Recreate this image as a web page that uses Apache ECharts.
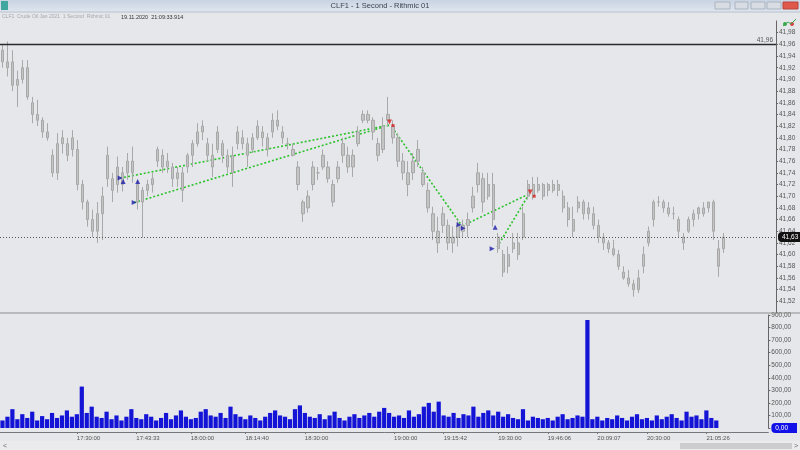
<!DOCTYPE html>
<html><head><meta charset="utf-8">
<script src="https://cdn.jsdelivr.net/npm/echarts@6/dist/echarts.min.js"></script>
<style>html,body{margin:0;padding:0;background:#e6e7eb}#c{width:800px;height:450px}</style>
</head><body><div id="c"></div>
<script>
// ---- data ----
const CAT_COUNT = 155;
const lows = [41.92,41.905,41.88,41.853,41.893,41.865,41.825,41.82,41.80,41.795,
41.733,41.728,41.773,41.76,41.768,41.71,41.677,41.648,41.63,41.62,
41.625,41.716,41.69,41.706,41.708,41.728,41.723,41.677,41.629,41.70,
41.706,41.75,41.74,41.74,41.716,41.716,41.69,41.74,41.75,41.785,
41.796,41.76,41.733,41.774,41.757,41.74,41.716,41.78,41.78,41.75,
41.774,41.796,41.785,41.768,41.80,41.813,41.79,41.78,41.768,41.71,
41.656,41.672,41.71,41.728,41.745,41.723,41.682,41.723,41.757,41.74,
41.733,41.785,41.825,41.825,41.796,41.76,41.774,41.82,41.79,41.75,
41.728,41.70,41.728,41.75,41.716,41.672,41.625,41.603,41.637,41.608,
41.603,41.614,41.63,41.63,41.672,41.706,41.672,41.694,41.648,41.603,
41.562,41.568,41.603,41.591,41.625,41.694,41.694,41.706,41.694,41.70,
41.706,41.70,41.672,41.648,41.63,41.672,41.66,41.66,41.643,41.62,
41.608,41.603,41.597,41.574,41.557,41.545,41.528,41.534,41.568,41.614,
41.648,41.682,41.672,41.665,41.66,41.63,41.608,41.637,41.648,41.66,
41.665,41.672,41.625,41.562,41.603];
const highs = [41.96,41.965,41.95,41.915,41.933,41.933,41.87,41.865,41.835,41.825,
41.78,41.808,41.813,41.80,41.813,41.796,41.728,41.694,41.677,41.69,
41.716,41.785,41.74,41.768,41.75,41.774,41.785,41.728,41.716,41.728,
41.74,41.785,41.78,41.774,41.757,41.75,41.75,41.774,41.796,41.825,
41.83,41.80,41.79,41.82,41.796,41.78,41.785,41.82,41.813,41.80,
41.808,41.83,41.82,41.808,41.842,41.847,41.82,41.80,41.79,41.76,
41.694,41.71,41.76,41.75,41.78,41.76,41.728,41.76,41.80,41.785,
41.78,41.82,41.847,41.847,41.835,41.80,41.835,41.87,41.83,41.808,
41.774,41.76,41.774,41.796,41.75,41.723,41.682,41.665,41.682,41.66,
41.648,41.66,41.66,41.672,41.716,41.757,41.74,41.74,41.74,41.637,
41.608,41.614,41.637,41.637,41.682,41.728,41.733,41.733,41.723,41.723,
41.728,41.728,41.71,41.69,41.682,41.70,41.694,41.69,41.682,41.66,
41.637,41.625,41.625,41.608,41.58,41.574,41.557,41.574,41.614,41.648,
41.694,41.70,41.694,41.69,41.682,41.665,41.637,41.665,41.677,41.682,
41.69,41.69,41.694,41.625,41.637];
const opens = [41.95,41.93,41.93,41.89,41.90,41.92,41.86,41.84,41.83,41.81,
41.77,41.74,41.79,41.79,41.78,41.78,41.72,41.69,41.66,41.64,
41.67,41.73,41.73,41.72,41.74,41.74,41.76,41.72,41.69,41.71,
41.72,41.76,41.77,41.75,41.75,41.73,41.74,41.75,41.77,41.79,
41.81,41.79,41.77,41.78,41.79,41.77,41.74,41.79,41.80,41.79,
41.78,41.80,41.81,41.80,41.81,41.83,41.81,41.79,41.78,41.75,
41.69,41.68,41.72,41.74,41.75,41.75,41.72,41.73,41.77,41.77,
41.75,41.79,41.83,41.84,41.83,41.79,41.78,41.83,41.82,41.80,
41.76,41.74,41.74,41.76,41.74,41.71,41.67,41.64,41.65,41.65,
41.62,41.63,41.64,41.65,41.68,41.72,41.73,41.70,41.72,41.63,
41.60,41.58,41.61,41.62,41.63,41.70,41.72,41.71,41.72,41.71,
41.72,41.71,41.70,41.68,41.66,41.68,41.69,41.67,41.67,41.65,
41.63,41.62,41.61,41.60,41.57,41.56,41.55,41.54,41.58,41.62,
41.66,41.69,41.69,41.68,41.67,41.66,41.63,41.64,41.66,41.67,
41.67,41.68,41.69,41.61,41.61];
const closes = [41.93,41.92,41.89,41.90,41.92,41.87,41.84,41.83,41.81,41.80,
41.74,41.79,41.80,41.77,41.80,41.72,41.69,41.66,41.64,41.67,
41.70,41.77,41.71,41.75,41.72,41.76,41.74,41.69,41.71,41.72,
41.73,41.78,41.75,41.76,41.73,41.74,41.71,41.77,41.79,41.81,
41.82,41.77,41.75,41.81,41.77,41.75,41.77,41.81,41.79,41.77,
41.80,41.82,41.80,41.78,41.83,41.82,41.80,41.79,41.77,41.72,
41.67,41.70,41.75,41.74,41.77,41.73,41.69,41.75,41.79,41.75,
41.77,41.81,41.84,41.83,41.81,41.77,41.82,41.84,41.80,41.76,
41.74,41.72,41.76,41.78,41.72,41.68,41.64,41.62,41.67,41.62,
41.63,41.65,41.65,41.66,41.70,41.74,41.69,41.72,41.66,41.61,
41.57,41.60,41.62,41.60,41.67,41.72,41.70,41.72,41.70,41.72,
41.71,41.72,41.68,41.66,41.64,41.69,41.67,41.68,41.65,41.63,
41.62,41.61,41.60,41.58,41.56,41.55,41.54,41.56,41.60,41.64,
41.69,41.69,41.68,41.67,41.67,41.64,41.62,41.66,41.67,41.68,
41.68,41.69,41.64,41.58,41.63];
const volumes = [60,90,150,70,110,80,130,60,95,70,
120,80,100,140,90,110,330,120,170,90,
80,130,70,100,60,90,150,80,70,110,
90,60,80,120,70,100,140,90,70,80,
130,150,100,90,120,80,170,110,90,70,
100,80,60,90,120,140,100,90,70,150,
180,120,90,80,110,70,100,130,80,60,
90,110,80,100,120,90,130,160,120,90,
100,80,140,90,110,170,200,130,210,100,
90,120,80,110,100,170,90,120,140,100,
130,90,110,80,70,150,60,90,80,70,
80,60,90,110,70,80,100,90,860,70,
90,60,80,70,100,80,60,90,110,70,
80,60,100,70,90,110,80,60,130,90,
100,70,140,80,60];
const timeLabels = ['17:30:00','17:43:33','18:00:00','18:14:40','18:30:00','19:00:00','19:15:42','19:30:00','19:46:06','20:09:07','20:30:00','21:05:26'];
const timeLabelIdx = [15,27,38,49,61,79,89,100,110,120,130,142];
const refHigh = 41.96;
const lastPrice = 41.63;
// trade annotation coordinates: [candle index, price]
const tradeLines = [
  [[23.5,41.731],[77.4,41.822]],
  [[26.3,41.689],[77.4,41.822]],
  [[77.8,41.818],[91.8,41.649]],
  [[91.8,41.649],[105.2,41.704]],
  [[98.8,41.613],[105.2,41.704]]
];
const entryMarks = [[23.5,41.731],[26.3,41.689],[91.2,41.651],[92.0,41.645],[97.8,41.610]];
const entryUpMarks = [[24.1,41.725],[27.0,41.725],[98.4,41.647]];
const exitMarks = [[77.3,41.827],[105.4,41.707]];
const exitDots = [[78.0,41.821],[106.2,41.700]];
const tradeLabelPts = [[78.6,41.831],[92.4,41.636],[102.4,41.742]];
const tradeLabels = ['+220 $','+170 $','+140 $'];

// ---- build ----
const cats = [];
for (let i = 0; i < CAT_COUNT; i++) cats.push(String(i));
const ohlc = opens.map((o, i) => [o, closes[i], lows[i], highs[i]]);
const comma = v => v.toFixed(2).replace('.', ',');
const FONT = 'Liberation Sans';

const chart = echarts.init(document.getElementById('c'), null, {renderer: 'canvas'});
const option = {
  backgroundColor: '#e6e7eb',
  animation: false,
  textStyle: {fontFamily: FONT},
  grid: [
    {left: 0, right: 24, top: 21, height: 292},
    {left: 0, right: 24, top: 315, height: 113}
  ],
  xAxis: [
    {type: 'category', gridIndex: 0, data: cats, show: false},
    {type: 'category', gridIndex: 1, data: cats, offset: 4,
      axisLine: {show: true, onZero: false, lineStyle: {color: '#777', width: 1}},
      axisTick: {show: true, alignWithLabel: true, length: 2, interval: i => timeLabelIdx.includes(i), lineStyle: {color: '#777'}},
      axisLabel: {show: true, interval: i => timeLabelIdx.includes(i), align: 'left', margin: 3, fontSize: 6, color: '#555',
        formatter: (v, i) => { const k = timeLabelIdx.indexOf(i); return k >= 0 ? timeLabels[k] : ''; }},
      splitLine: {show: false}},
    {type: 'value', gridIndex: 0, min: -0.5, max: CAT_COUNT - 0.5, show: false, axisLine: {onZero: false}}
  ],
  yAxis: [
    {type: 'value', gridIndex: 0, position: 'right', min: 41.50, max: 42.00, interval: 0.02, scale: true,
      axisLine: {show: true, onZero: false, lineStyle: {color: '#666'}},
      axisTick: {show: true, length: 2, lineStyle: {color: '#666'}},
      axisLabel: {show: true, margin: 3, fontSize: 6.5, color: '#555', formatter: comma, showMinLabel: false, showMaxLabel: false},
      splitLine: {show: false}},
    {type: 'value', gridIndex: 1, position: 'right', min: 0, max: 900, interval: 100,
      axisLine: {show: true, onZero: false, lineStyle: {color: '#666'}},
      axisTick: {show: true, length: 2, lineStyle: {color: '#666'}},
      axisLabel: {show: true, margin: 3, fontSize: 6.5, color: '#555',
        formatter: v => v === 0 ? '{b|0,00}' : comma(v),
        rich: {b: {backgroundColor: '#1212e8', color: '#fff', fontSize: 6.5, padding: [2, 9, 1, 4], borderRadius: [4, 0, 0, 4]}}},
      splitLine: {show: false}}
  ],
  series: [
    {type: 'candlestick', xAxisIndex: 0, yAxisIndex: 0, data: ohlc, barWidth: '55%',
      itemStyle: {color: '#c4c4c4', color0: '#c4c4c4', borderColor: '#a8a8a8', borderColor0: '#a8a8a8', borderWidth: 1},
      markLine: {silent: true, symbol: 'none', animation: false,
        data: [
          {yAxis: refHigh, lineStyle: {color: '#2a2a2a', width: 1.3, type: 'solid'},
            label: {show: true, position: 'insideEndTop', distance: [3, 1], formatter: comma(refHigh), fontSize: 6.5, color: '#555'}},
          {yAxis: lastPrice, lineStyle: {color: '#555', width: 1, type: [1, 2]},
            label: {show: true, position: 'end', distance: 2, formatter: comma(lastPrice), fontSize: 6.5, color: '#fff',
              backgroundColor: '#111', padding: [2, 4, 1, 4], borderRadius: [4, 0, 0, 4]}}
        ]}},
    {type: 'bar', xAxisIndex: 1, yAxisIndex: 1, data: volumes, barWidth: '85%', itemStyle: {color: '#1414d6'}},
    {type: 'lines', coordinateSystem: 'cartesian2d', xAxisIndex: 2, yAxisIndex: 0, silent: true,
      lineStyle: {color: '#2cc22c', width: 1.6, type: [2, 2], opacity: 1},
      data: tradeLines.map(c => ({coords: c}))},
    {type: 'scatter', xAxisIndex: 2, yAxisIndex: 0, symbol: 'triangle', symbolRotate: -90, symbolSize: 5,
      itemStyle: {color: '#1c1ca8'}, data: entryMarks, z: 5},
    {type: 'scatter', xAxisIndex: 2, yAxisIndex: 0, symbol: 'triangle', symbolSize: 5,
      itemStyle: {color: '#1c1ca8'}, data: entryUpMarks, z: 5},
    {type: 'scatter', xAxisIndex: 2, yAxisIndex: 0, symbol: 'triangle', symbolRotate: 180, symbolSize: 5,
      itemStyle: {color: '#d62020'}, data: exitMarks, z: 5},
    {type: 'scatter', xAxisIndex: 2, yAxisIndex: 0, symbol: 'rect', symbolSize: 3,
      itemStyle: {color: '#d62020'}, data: exitDots, z: 5},
    {type: 'scatter', xAxisIndex: 2, yAxisIndex: 0, symbolSize: 1, itemStyle: {opacity: 0}, z: 6,
      data: tradeLabelPts.map((p, i) => ({value: p, label: {show: true, position: 'right', distance: 0,
        formatter: tradeLabels[i], fontSize: 10, fontWeight: 'bold', fontStyle: i === 0 ? 'italic' : 'normal', color: '#111'}}))}
  ],
  graphic: [
    {type: 'rect', shape: {x: 0, y: 0, width: 800, height: 12}, z: 100,
      style: {fill: new echarts.graphic.LinearGradient(0, 0, 0, 1, [{offset: 0, color: '#c9d4e2'}, {offset: 1, color: '#dfe6ef'}])}},
    {type: 'line', shape: {x1: 0, y1: 12, x2: 800, y2: 12}, z: 100, style: {stroke: '#b8c2ce', lineWidth: 1}},
    {type: 'rect', shape: {x: 1, y: 1, width: 7, height: 9}, z: 101, style: {fill: '#3fa7a0'}},
    {type: 'text', x: 380, y: 6, z: 101, style: {text: 'CLF1 - 1 Second - Rithmic 01', font: '7.5px Liberation Sans', fill: '#3a4350', align: 'center', verticalAlign: 'middle'}},
    {type: 'rect', shape: {x: 715, y: 2, width: 15, height: 7}, z: 101, style: {fill: '#d8dde4', stroke: '#aab3bf'}},
    {type: 'rect', shape: {x: 735, y: 2, width: 13, height: 7}, z: 101, style: {fill: '#d8dde4', stroke: '#aab3bf'}},
    {type: 'rect', shape: {x: 751, y: 2, width: 14, height: 7}, z: 101, style: {fill: '#d8dde4', stroke: '#aab3bf'}},
    {type: 'rect', shape: {x: 767, y: 2, width: 14, height: 7}, z: 101, style: {fill: '#d8dde4', stroke: '#aab3bf'}},
    {type: 'rect', shape: {x: 783, y: 2, width: 15, height: 7}, z: 101, style: {fill: '#e0584a', stroke: '#b94438'}},
    {type: 'text', x: 2, y: 17, z: 101, style: {text: 'CLF1  Crude Oil Jan 2021  1 Second  Rithmic 01', font: '5px Liberation Sans', fill: '#a6a8ad', verticalAlign: 'middle'}},
    {type: 'text', x: 121, y: 17, z: 101, style: {text: '19.11.2020  21:09:33.914', font: '5.5px Liberation Sans', fill: '#333', verticalAlign: 'middle'}},
    {type: 'circle', shape: {cx: 785, cy: 24, r: 2}, z: 101, style: {fill: '#3aa84a'}},
    {type: 'circle', shape: {cx: 792, cy: 24, r: 2}, z: 101, style: {fill: '#d84040'}},
    {type: 'polyline', shape: {points: [[783, 26], [788, 22], [791, 24], [796, 19]]}, z: 101, style: {stroke: '#3aa84a', lineWidth: 1, fill: null}},
    {type: 'line', shape: {x1: 0, y1: 313, x2: 800, y2: 313}, z: 50, style: {stroke: '#8d8d8d', lineWidth: 1}},
    {type: 'rect', shape: {x: 0, y: 441, width: 800, height: 9}, z: 50, style: {fill: '#ebebed'}},
    {type: 'rect', shape: {x: 680, y: 443, width: 112, height: 6}, z: 51, style: {fill: '#cdcdcf'}},
    {type: 'text', x: 3, y: 446, z: 51, style: {text: '<', font: '7px Liberation Sans', fill: '#666', verticalAlign: 'middle'}},
    {type: 'text', x: 794, y: 446, z: 51, style: {text: '>', font: '7px Liberation Sans', fill: '#666', verticalAlign: 'middle'}}
  ]
};
chart.setOption(option);
</script>
</body></html>
